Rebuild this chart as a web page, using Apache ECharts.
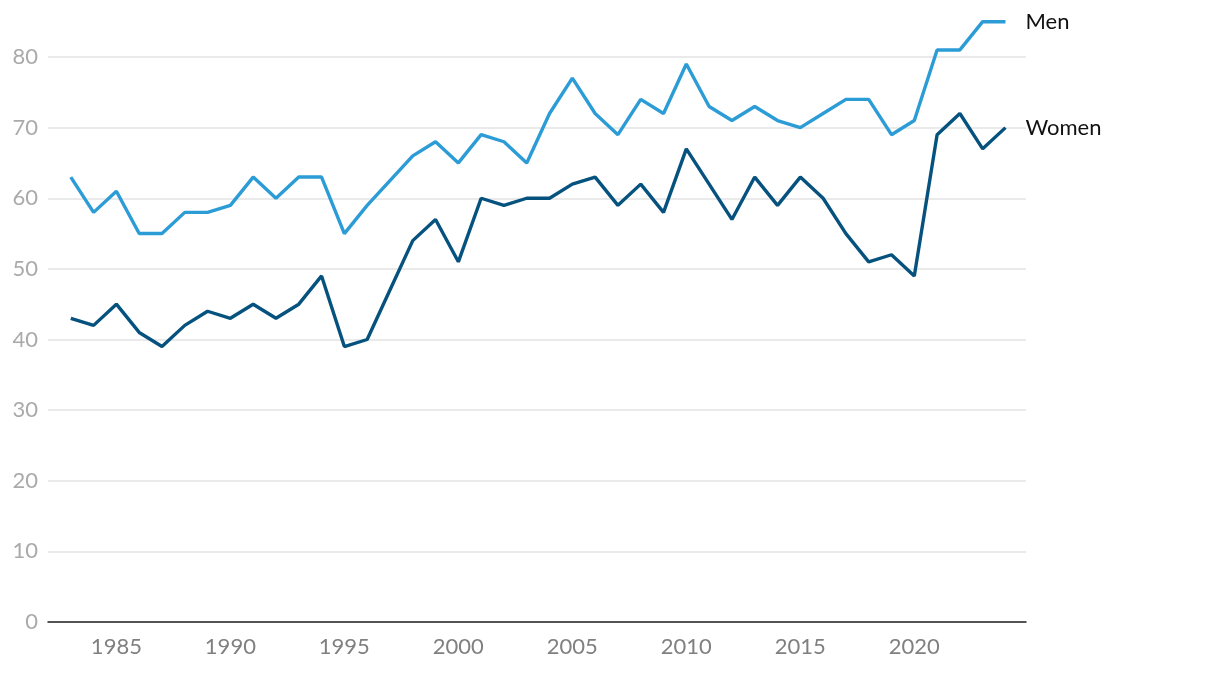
<!DOCTYPE html>
<html>
<head>
<meta charset="utf-8">
<script src="https://cdn.jsdelivr.net/npm/echarts@6/dist/echarts.min.js"></script>
<style>html,body{margin:0;padding:0;background:#fff}#c{width:1220px;height:674px}</style>
</head>
<body>
<div id="c"></div>
<script>
const years = [1983,1984,1985,1986,1987,1988,1989,1990,1991,1992,1993,1994,1995,1996,1997,1998,1999,2000,2001,2002,2003,2004,2005,2006,2007,2008,2009,2010,2011,2012,2013,2014,2015,2016,2017,2018,2019,2020,2021,2022,2023,2024];
const men = [63,58,61,55,55,58,58,59,63,60,63,63,55,59,62.5,66,68,65,69,68,65,72,77,72,69,74,72,79,73,71,73,71,70,72,74,74,69,71,81,81,85,85];
const women = [43,42,45,41,39,42,44,43,45,43,45,49,39,40,47,54,57,51,60,59,60,60,62,63,59,62,58,67,62,57,63,59,63,60,55,51,52,49,69,72,67,70];
const xTickLabels = [1985,1990,1995,2000,2005,2010,2015,2020];

const pair = (arr) => years.map((y, i) => [y, arr[i]]);
const font = 'Lato, "Open Sans", sans-serif';

const chart = echarts.init(document.getElementById('c'), null, {renderer: 'canvas'});
chart.setOption({
  animation: false,
  backgroundColor: '#fff',
  grid: {left: 48, right: 194, top: 57, bottom: 52, containLabel: false},
  xAxis: {
    type: 'value', min: 1982, max: 2024.9, interval: 1,
    axisLine: {show: true, lineStyle: {color: '#222', width: 1.5}},
    axisTick: {show: false},
    splitLine: {show: false},
    axisLabel: {
      color: '#808080', fontSize: 22, fontFamily: font, margin: 14,
      formatter: v => xTickLabels.includes(v) ? String(v) : ''
    }
  },
  yAxis: {
    type: 'value', min: 0, max: 80, interval: 10,
    axisLine: {show: false}, axisTick: {show: false},
    splitLine: {lineStyle: {color: '#e3e3e3', width: 1.5}},
    axisLabel: {color: '#aaaaaa', fontSize: 22, fontFamily: font, margin: 10}
  },
  series: [
    {
      name: 'Men', type: 'line', data: pair(men), symbol: 'none', clip: false,
      lineStyle: {color: '#2b9cd6', width: 3.4}, itemStyle: {color: '#2b9cd6'},
      endLabel: {show: true, formatter: '{a}', color: '#111', fontSize: 22, fontFamily: font, distance: 20}
    },
    {
      name: 'Women', type: 'line', data: pair(women), symbol: 'none', clip: false,
      lineStyle: {color: '#06527f', width: 3.4}, itemStyle: {color: '#06527f'},
      endLabel: {show: true, formatter: '{a}', color: '#111', fontSize: 22, fontFamily: font, distance: 20}
    }
  ]
});
</script>
</body>
</html>
